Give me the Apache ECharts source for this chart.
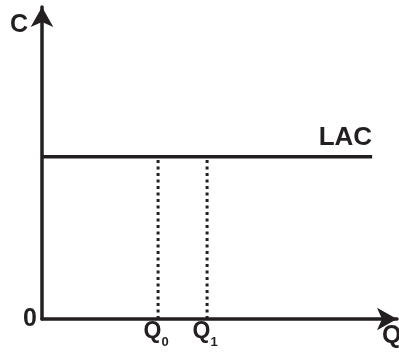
<!DOCTYPE html>
<html>
<head>
<meta charset="utf-8">
<script src="https://cdn.jsdelivr.net/npm/echarts@6/dist/echarts.min.js"></script>
<style>
  html, body { margin: 0; padding: 0; background: #fff; }
  #chart { width: 399px; height: 353px; }
</style>
</head>
<body>
<div id="chart"></div>
<script>
  // chart values (axes run 0..100 in arbitrary units)
  const lacLevel = 52
  const lacStart = 0
  const lacEnd = 93
  const qValues = [32.7, 46.5]
  const qSubs = ["0", "1"]
  const ink = "#231f20"
  const font = "Liberation Sans, Arial, sans-serif"

  const chart = echarts.init(document.getElementById("chart"))

  const dotted = qValues.map(q => ({
    type: "line",
    data: [[q, 0], [q, lacLevel]],
    showSymbol: false,
    silent: true,
    lineStyle: { color: ink, width: 3, type: [3, 3.5] },
    z: 2
  }))

  chart.setOption({
    animation: false,
    grid: { left: 42, right: 2, top: 7, bottom: 34, outerBoundsMode: "none", containLabel: false },
    xAxis: {
      type: "value",
      min: 0,
      max: 100,
      name: "Q",
      nameLocation: "end",
      nameGap: -15,
      nameTextStyle: {
        fontFamily: font, fontWeight: "bold", fontSize: 25, color: ink,
        align: "left", verticalAlign: "top", padding: [5, 0, 0, 0]
      },
      axisLine: { lineStyle: { color: ink, width: 3.5 }, symbol: ["none", "arrow"], symbolSize: [17, 20] },
      axisTick: { show: false },
      axisLabel: { show: false },
      splitLine: { show: false }
    },
    yAxis: {
      type: "value",
      min: 0,
      max: 100,
      interval: 100,
      name: "C",
      nameLocation: "end",
      nameGap: -18,
      nameTextStyle: {
        fontFamily: font, fontWeight: "bold", fontSize: 25, color: ink,
        align: "right", verticalAlign: "middle", padding: [0, 14, 0, 0]
      },
      axisLine: { lineStyle: { color: ink, width: 3.5 }, symbol: ["none", "arrow"], symbolSize: [17, 20] },
      axisTick: { show: false },
      axisLabel: {
        formatter: v => (v === 0 ? "0" : ""),
        fontFamily: font, fontWeight: "bold", fontSize: 25, color: ink, margin: 5,
        padding: [4, 0, 0, 0]
      },
      splitLine: { show: false }
    },
    series: [
      {
        type: "line",
        data: [[lacStart, lacLevel], [lacEnd, lacLevel]],
        showSymbol: false,
        silent: true,
        lineStyle: { color: ink, width: 3.5 },
        z: 3
      },
      ...dotted,
      {
        type: "scatter",
        symbolSize: 0,
        silent: true,
        itemStyle: { opacity: 1 },
        data: qValues.map((q, i) => ({ value: [q, 0], sub: qSubs[i] })),
        label: {
          show: true,
          position: "bottom",
          distance: 1,
          offset: [-2, 0],
          color: ink,
          formatter: p => "{q|Q}{s|" + p.data.sub + "}",
          rich: {
            q: { fontFamily: font, fontWeight: "bold", fontSize: 23, lineHeight: 24, color: ink, verticalAlign: "top" },
            s: { fontFamily: font, fontWeight: "bold", fontSize: 13, lineHeight: 14, color: ink, verticalAlign: "top", padding: [16, 0, 0, 0] }
          }
        }
      },
      {
        type: "scatter",
        symbolSize: 0,
        silent: true,
        itemStyle: { opacity: 1 },
        data: [[lacEnd, lacLevel]],
        label: {
          show: true, position: "top", align: "right", distance: 6,
          formatter: "LAC",
          fontFamily: font, fontWeight: "bold", fontSize: 26, color: ink
        }
      }
    ]
  })
</script>
</body>
</html>
